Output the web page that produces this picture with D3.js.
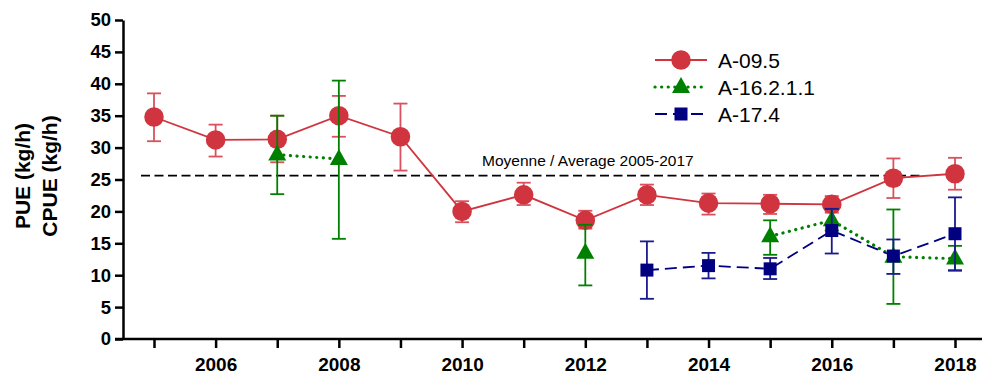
<!DOCTYPE html>
<html>
<head>
<meta charset="utf-8">
<script src="https://cdn.jsdelivr.net/npm/d3@7"></script>
<style>
  body { margin: 0; background: #fff; }
  svg { display: block; font-family: "Liberation Sans", Arial, sans-serif; }
</style>
</head>
<body>
<div id="chart"></div>
<script>
// data
const years = [2005, 2006, 2007, 2008, 2009, 2010, 2011, 2012, 2013, 2014, 2015, 2016, 2017, 2018];
const yTicks = [0, 5, 10, 15, 20, 25, 30, 35, 40, 45, 50];
const xLabelYears = [2006, 2008, 2010, 2012, 2014, 2016, 2018];
const average = 25.6;

// A-09.5 : value, low, high
const a095Years = [2005, 2006, 2007, 2008, 2009, 2010, 2011, 2012, 2013, 2014, 2015, 2016, 2017, 2018];
const a095Val  = [34.8, 31.2, 31.3, 35.0, 31.7, 20.0, 22.6, 18.6, 22.6, 21.3, 21.2, 21.1, 25.2, 25.9];
const a095Low  = [31.0, 28.6, 27.7, 31.7, 26.4, 18.3, 21.0, 17.3, 21.0, 19.5, 19.6, 19.8, 22.1, 23.4];
const a095High = [38.5, 33.6, 35.0, 38.1, 36.9, 21.6, 24.5, 20.1, 24.2, 22.8, 22.6, 22.4, 28.3, 28.4];

// A-16.2.1.1 (years without survey break the line)
const a162Years = [2007, 2008, 2012, 2015, 2016, 2017, 2018];
const a162Val  = [28.9, 28.2, 13.5, 16.1, 18.6, 12.9, 12.6];
const a162Low  = [22.7, 15.7, 8.4, 13.2, 17.0, 5.5, 10.8];
const a162High = [35.0, 40.5, 17.9, 18.6, 20.4, 20.3, 14.6];

// A-17.4
const a174Years = [2013, 2014, 2015, 2016, 2017, 2018];
const a174Val  = [10.8, 11.5, 11.0, 17.0, 13.0, 16.5];
const a174Low  = [6.3, 9.5, 9.4, 13.4, 10.2, 10.7];
const a174High = [15.3, 13.5, 12.7, 20.4, 15.6, 22.2];

const W = 984, H = 379;
const svg = d3.select("#chart").append("svg")
  .attr("width", W).attr("height", H);

const x = d3.scaleLinear().domain([2005, 2018]).range([154, 955]);
const y = d3.scaleLinear().domain([0, 50]).range([339, 20]);

// y axis
const yAxis = svg.append("g")
  .attr("transform", "translate(123,0)")
  .call(d3.axisLeft(y).tickValues(yTicks).tickSize(8).tickSizeOuter(0).tickPadding(4));
yAxis.select(".domain").attr("stroke", "#000").attr("stroke-width", 2.5);
yAxis.selectAll(".tick line").attr("stroke", "#000").attr("stroke-width", 2.5);
yAxis.selectAll(".tick text")
  .attr("fill", "#000").attr("font-size", 18.5).attr("font-weight", "bold")
  .attr("font-family", "Liberation Sans, Arial, sans-serif");

// x axis
const xAxis = svg.append("g")
  .attr("transform", "translate(0,339)")
  .call(d3.axisBottom(x).tickValues(years).tickSize(9).tickSizeOuter(0)
    .tickFormat(d => xLabelYears.includes(d) ? d : "").tickPadding(10));
xAxis.select(".domain").remove();
xAxis.append("line").attr("x1", 115).attr("x2", 982)
  .attr("stroke", "#000").attr("stroke-width", 2.5);
xAxis.selectAll(".tick line").attr("stroke", "#000").attr("stroke-width", 2.5);
xAxis.selectAll(".tick text")
  .attr("fill", "#000").attr("font-size", 19).attr("font-weight", "bold")
  .attr("font-family", "Liberation Sans, Arial, sans-serif");

// y axis title
const yt = svg.append("text")
  .attr("transform", "translate(0,176) rotate(-90)")
  .attr("text-anchor", "middle").attr("font-size", 21).attr("font-weight", "bold");
yt.append("tspan").attr("x", 0).attr("y", 30).text("PUE (kg/h)");
yt.append("tspan").attr("x", 0).attr("y", 57).text("CPUE (kg/h)");

// average line
svg.append("line")
  .attr("x1", 141).attr("x2", 923)
  .attr("y1", y(average)).attr("y2", y(average))
  .attr("stroke", "#000").attr("stroke-width", 1.8).attr("stroke-dasharray", "9,4.5");
svg.append("text")
  .attr("x", 482).attr("y", y(average) - 10)
  .attr("font-size", 15.5).attr("fill", "#000")
  .text("Moyenne / Average 2005-2017");

function series(yrs, val, low, high, cfg) {
  const data = yrs.map((yr, i) => ({ yr, v: val[i], lo: low[i], hi: high[i] }));
  // full year list so missing years break the line
  const full = years.map(yr => data.find(d => d.yr === yr) || { yr, v: null });
  const g = svg.append("g");
  // error bars
  const eb = g.selectAll(".eb").data(data).enter().append("g")
    .attr("stroke", cfg.errColor).attr("stroke-width", 1.8);
  eb.append("line").attr("x1", d => x(d.yr)).attr("x2", d => x(d.yr))
    .attr("y1", d => y(d.lo)).attr("y2", d => y(d.hi));
  eb.append("line").attr("x1", d => x(d.yr) - 7).attr("x2", d => x(d.yr) + 7)
    .attr("y1", d => y(d.lo)).attr("y2", d => y(d.lo));
  eb.append("line").attr("x1", d => x(d.yr) - 7).attr("x2", d => x(d.yr) + 7)
    .attr("y1", d => y(d.hi)).attr("y2", d => y(d.hi));
  // line
  g.append("path").datum(full)
    .attr("fill", "none").attr("stroke", cfg.color)
    .attr("stroke-width", cfg.width)
    .attr("stroke-dasharray", cfg.dash)
    .attr("stroke-linecap", cfg.cap)
    .attr("d", d3.line().defined(d => d.v !== null).x(d => x(d.yr)).y(d => y(d.v)));
  // markers
  g.selectAll(".m").data(data).enter().append("path")
    .attr("transform", d => `translate(${x(d.yr)},${y(d.v)})`)
    .attr("d", cfg.symbol)
    .attr("fill", cfg.color);
}

const circleSym = d3.symbol(d3.symbolCircle, 300)();
const triSym = "M0,-10L9,6L-9,6Z";
const sqSym = "M-6.5,-6.5H6.5V6.5H-6.5Z";

const red = "#d0343f", green = "#008000", blue = "#000080";

series(a095Years, a095Val, a095Low, a095High,
  { color: red, errColor: "#d9515c", width: 1.8, dash: null, cap: "butt", symbol: circleSym });
series(a162Years, a162Val, a162Low, a162High,
  { color: green, errColor: green, width: 3.2, dash: "0.1,6.5", cap: "round", symbol: triSym });
series(a174Years, a174Val, a174Low, a174High,
  { color: blue, errColor: "#1a1a90", width: 1.8, dash: "12,6", cap: "butt", symbol: sqSym });

// legend
const legend = [
  { name: "A-09.5", color: red, width: 1.8, dash: null, cap: "butt", symbol: circleSym, y: 60 },
  { name: "A-16.2.1.1", color: green, width: 3.2, dash: "0.1,6.5", cap: "round", symbol: triSym, y: 87 },
  { name: "A-17.4", color: blue, width: 1.8, dash: "12,6", cap: "butt", symbol: sqSym, y: 114 }
];
const lg = svg.append("g").selectAll("g").data(legend).enter().append("g");
lg.append("line").attr("x1", 655).attr("x2", 707)
  .attr("y1", d => d.y).attr("y2", d => d.y)
  .attr("stroke", d => d.color).attr("stroke-width", d => d.width)
  .attr("stroke-dasharray", d => d.dash).attr("stroke-linecap", d => d.cap);
lg.append("path").attr("transform", d => `translate(681,${d.y})`)
  .attr("d", d => d.symbol).attr("fill", d => d.color);
lg.append("text").attr("x", 718).attr("y", d => d.y)
  .attr("dy", "0.36em").attr("font-size", 21).attr("fill", "#000")
  .text(d => d.name);
</script>
</body>
</html>
